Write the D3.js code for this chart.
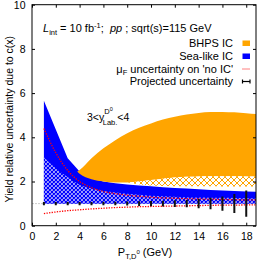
<!DOCTYPE html>
<html><head><meta charset="utf-8">
<script src="https://cdn.jsdelivr.net/npm/d3@7"></script>
<style>
html,body{margin:0;padding:0;background:#fff;}
svg{display:block;font-family:"Liberation Sans",Arial,sans-serif;}
</style></head>
<body>
<script>
// ---------------- data ----------------
const ptBins = [1,2,3,4,5,6,7,8,9,10,11,12,13,14,15,16,17,18,19];
// Sea-like IC band (solid blue)
const seaUpper = [5.65,4.35,3.05,2.45,2.15,2.0,1.92,1.86,1.82,1.78,1.74,1.71,1.68,1.65,1.62,1.59,1.57,1.55,1.53];
const seaLower = [1.0,1.0,1.0,1.0,1.0,1.0,1.0,1.0,1.0,1.0,1.0,1.0,1.0,1.0,1.0,1.0,1.0,1.0,1.0];
// Sea-like IC hatched band
const seaHatchUpper = [3.1,2.6,2.2,1.85,1.68,1.57,1.5,1.45,1.4,1.36,1.33,1.31,1.29,1.28,1.27,1.26,1.25,1.24,1.23];
const seaHatchLower = [1.0,1.0,1.0,1.0,1.0,1.0,1.0,1.0,1.0,1.0,1.0,1.0,1.0,1.0,1.0,1.0,1.0,1.0,1.0];
// BHPS IC band (solid orange)
const bhpsPt    = [3.8,4,5,6,7,8,9,10,11,12,13,14,15,16,17,18,19];
const bhpsUpper = [2.45,2.52,3.05,3.5,3.87,4.18,4.43,4.63,4.8,4.93,5.03,5.1,5.14,5.15,5.13,5.09,5.04];
const bhpsLower = [2.45,2.35,2.1,2.0,1.95,1.95,2.0,2.07,2.13,2.18,2.21,2.23,2.24,2.24,2.24,2.23,2.22];
// BHPS IC hatched band
const bhpsHatchPt    = [8,9,10,11,12,13,14,15,16,17,18,19];
const bhpsHatchUpper = [1.95,2.0,2.07,2.13,2.18,2.21,2.23,2.24,2.24,2.24,2.23,2.22];
const bhpsHatchLower = [1.95,1.87,1.82,1.8,1.79,1.78,1.78,1.78,1.77,1.77,1.77,1.77];
// mu_F uncertainty on 'no IC'
const muUpper = [4.4,3.3,2.5,2.0,1.72,1.55,1.45,1.38,1.33,1.29,1.26,1.24,1.22,1.21,1.2,1.19,1.18,1.17,1.17];
const muLower = [0.55,0.62,0.68,0.72,0.76,0.79,0.82,0.84,0.86,0.87,0.88,0.89,0.9,0.91,0.92,0.93,0.93,0.94,0.94];
// projected uncertainty
const projPt = [1,2,3,4,5,6,7,8,9,10,11,12,13,14,15,16,17,18];
const projCenter = [1,1,1,1,1,1,1,1,1,1,1,1,1,1,1,1,1,1];
const projErr = [0.07,0.07,0.07,0.07,0.07,0.08,0.08,0.09,0.11,0.12,0.13,0.15,0.16,0.21,0.26,0.32,0.43,0.59];
// axes
const xTicks = [0,2,4,6,8,10,12,14,16,18];
const yTicks = [0,2,4,6,8,10];
const xDomain = [0,18.82];
const yDomain = [0,10];

// ---------------- drawing ----------------
const W=258,H=262;
const L=32,R=256,T=4.7,B=225.7;
const svg=d3.select("body").append("svg").attr("width",W).attr("height",H);
const x=d3.scaleLinear().domain(xDomain).range([L,R]);
const y=d3.scaleLinear().domain(yDomain).range([B,T]);

const defs=svg.append("defs");
defs.append("clipPath").attr("id","clip").append("rect").attr("x",L).attr("y",T).attr("width",R-L).attr("height",B-T);
const pb=defs.append("pattern").attr("id","blueHatch").attr("patternUnits","userSpaceOnUse").attr("width",4).attr("height",4);
pb.append("rect").attr("width",4).attr("height",4).attr("fill","#fff");
pb.append("path").attr("d","M0,0L4,4M4,0L0,4M-1,1L1,-1M3,5L5,3M-1,3L1,5M3,-1L5,1").attr("stroke","#0000ff").attr("stroke-width",1.25);
const po=defs.append("pattern").attr("id","orangeHatch").attr("patternUnits","userSpaceOnUse").attr("width",6).attr("height",6);
po.append("rect").attr("width",6).attr("height",6).attr("fill","#fff");
po.append("path").attr("d","M0,0L6,6M6,0L0,6M-1,1L1,-1M5,7L7,5M-1,5L1,7M5,-1L7,1").attr("stroke","#ffa500").attr("stroke-width",1);

const g=svg.append("g").attr("clip-path","url(#clip)");
// reference line at 1
g.append("line").attr("x1",x(0)).attr("x2",x(xDomain[1])).attr("y1",y(1)).attr("y2",y(1)).attr("stroke","#ccc").attr("stroke-width",1).attr("stroke-dasharray","2,1");

function band(xs,lo,hi,fill,curve){
  const data=xs.map((v,i)=>({x:v,lo:lo[i],hi:hi[i]}));
  const a=d3.area().x(d=>x(d.x)).y0(d=>y(d.lo)).y1(d=>y(d.hi)).curve(curve||d3.curveLinear);
  g.append("path").datum(data).attr("d",a).attr("fill",fill);
}
band(ptBins,seaLower,seaUpper,"#0000ff");
band(ptBins,seaHatchLower,seaHatchUpper,"url(#blueHatch)",d3.curveMonotoneX);
band(bhpsPt,bhpsLower,bhpsUpper,"#ffa500",d3.curveMonotoneX);
band(bhpsHatchPt,bhpsHatchLower,bhpsHatchUpper,"url(#orangeHatch)",d3.curveMonotoneX);

const line=d3.line().x(d=>x(d[0])).y(d=>y(d[1])).curve(d3.curveMonotoneX);
[muUpper,muLower].forEach(arr=>{
  g.append("path").datum(ptBins.map((v,i)=>[v,arr[i]])).attr("d",line)
   .attr("fill","none").attr("stroke","#ff0000").attr("stroke-width",1.3).attr("stroke-dasharray","1.3,1.3");
});
g.selectAll(".err").data(projPt.map((v,i)=>({x:v,c:projCenter[i],e:projErr[i]}))).enter().append("line")
 .attr("x1",d=>x(d.x)).attr("x2",d=>x(d.x)).attr("y1",d=>y(d.c-d.e)).attr("y2",d=>y(d.c+d.e))
 .attr("stroke","#111").attr("stroke-width",2);

// axes
const fs=10.5;
const ax=svg.append("g").attr("transform",`translate(0,${B})`).call(d3.axisBottom(x).tickValues(xTicks).tickSize(-3).tickPadding(6.8).tickFormat(d3.format("d")));
const ay=svg.append("g").attr("transform",`translate(${L},0)`).call(d3.axisLeft(y).tickValues(yTicks).tickSize(-3).tickPadding(6.5).tickFormat(d3.format("d")));
const at=svg.append("g").attr("transform",`translate(0,${T})`).call(d3.axisTop(x).tickValues(xTicks).tickSize(-3).tickFormat(""));
const ar=svg.append("g").attr("transform",`translate(${R},0)`).call(d3.axisRight(y).tickValues(yTicks).tickSize(-3).tickFormat(""));
[ax,ay,at,ar].forEach(a=>{a.select(".domain").remove();a.selectAll("text").attr("font-size",fs).attr("font-family","Liberation Sans, Arial, sans-serif").attr("fill","#000");a.selectAll("line").attr("stroke","#000");});
svg.append("rect").attr("x",L).attr("y",T).attr("width",R-L).attr("height",B-T).attr("fill","none").attr("stroke","#000").attr("stroke-width",1);

// axis titles
svg.append("text").attr("transform",`translate(13,${(T+B)/2+4}) rotate(-90)`).attr("text-anchor","middle").attr("font-size",10.5)
 .text("Yield relative uncertainty due to c(x)");
const xt=svg.append("text").attr("x",145).attr("y",256).attr("text-anchor","middle").attr("font-size",11);
xt.append("tspan").text("P");
xt.append("tspan").attr("font-size",7.5).attr("dy",2.5).text("T,D");
xt.append("tspan").attr("font-size",6).attr("dy",-5).text("0");
xt.append("tspan").attr("dy",2.5).text(" (GeV)");

// header
const hd=svg.append("text").attr("x",43).attr("y",32).attr("font-size",11);
hd.append("tspan").attr("font-style","italic").text("L");
hd.append("tspan").attr("font-size",7.5).attr("dy",2.5).text("int");
hd.append("tspan").attr("dy",-2.5).text(" = 10 fb");
hd.append("tspan").attr("font-size",7.5).attr("dy",-4).text("-1");
hd.append("tspan").attr("dy",4).text(";\u00a0\u00a0");
hd.append("tspan").attr("font-style","italic").text("pp");
hd.append("tspan").text(" ; sqrt(s)=115 GeV");

// rapidity label
const rl=svg.append("text").attr("x",87).attr("y",121).attr("font-size",10.5);
rl.append("tspan").text("3<y");
rl.append("tspan").attr("font-size",7.5).attr("dy",-7).text("D");
rl.append("tspan").attr("font-size",5.5).attr("dy",-3).text("0");
rl.append("tspan").attr("font-size",7.5).attr("dx",-10).attr("dy",14).text("Lab.");
rl.append("tspan").attr("dy",-4).text("<4");

// legend
const lx=233, rows=[46.5,59.5,72.5,85];
const lg=svg.append("g").attr("font-size",11);
lg.append("text").attr("x",lx).attr("y",rows[0]).attr("text-anchor","end").text("BHPS IC");
lg.append("text").attr("x",lx).attr("y",rows[1]).attr("text-anchor","end").text("Sea-like IC");
const mt=lg.append("text").attr("x",lx).attr("y",rows[2]).attr("text-anchor","end");
mt.append("tspan").text("μ");
mt.append("tspan").attr("font-size",7.5).attr("dy",2.5).text("F");
mt.append("tspan").attr("dy",-2.5).text(" uncertainty on 'no IC'");
lg.append("text").attr("x",lx).attr("y",rows[3]).attr("text-anchor","end").text("Projected uncertainty");
lg.append("rect").attr("x",242.5).attr("y",rows[0]-6).attr("width",7.5).attr("height",5.5).attr("fill","#ffa500");
lg.append("rect").attr("x",242.5).attr("y",rows[1]-6).attr("width",7.5).attr("height",5.5).attr("fill","#0000ff");
lg.append("line").attr("x1",242.5).attr("x2",250).attr("y1",rows[2]-3.5).attr("y2",rows[2]-3.5).attr("stroke","#ff0000").attr("stroke-width",1).attr("stroke-dasharray","1,1");
lg.append("line").attr("x1",242.5).attr("x2",250).attr("y1",rows[3]-3.5).attr("y2",rows[3]-3.5).attr("stroke","#000").attr("stroke-width",1.2);
lg.append("line").attr("x1",242.5).attr("x2",242.5).attr("y1",rows[3]-5.5).attr("y2",rows[3]-1.5).attr("stroke","#000").attr("stroke-width",1.2);
lg.append("line").attr("x1",250).attr("x2",250).attr("y1",rows[3]-5.5).attr("y2",rows[3]-1.5).attr("stroke","#000").attr("stroke-width",1.2);
</script>
</body></html>
